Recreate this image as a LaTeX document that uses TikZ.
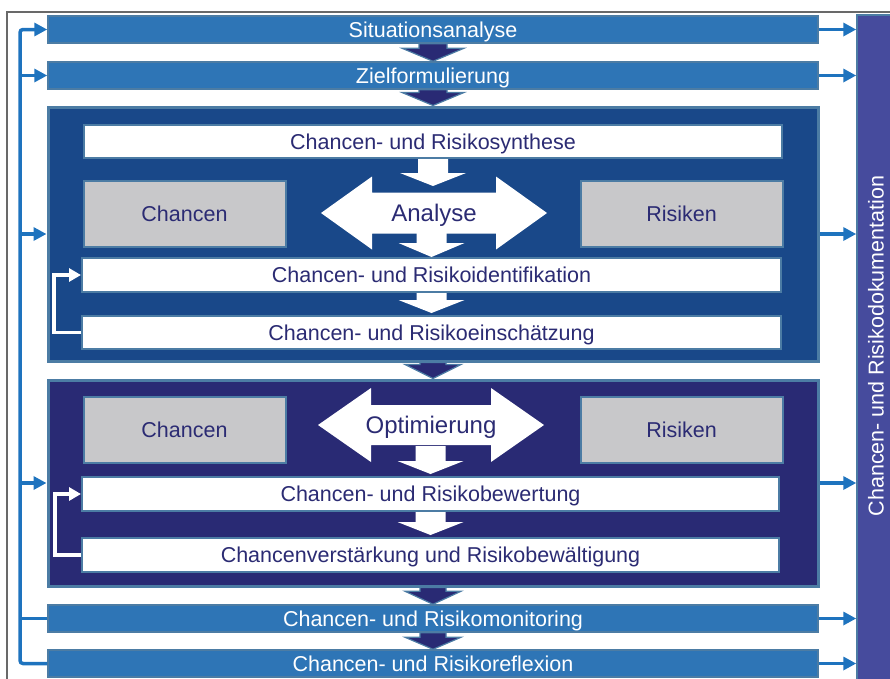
\documentclass[tikz,border=0pt]{standalone}
\usepackage{fontspec}
\setmainfont{Liberation Sans}
\usetikzlibrary{arrows.meta,calc}

\definecolor{barblue}{RGB}{46,117,182}
\definecolor{edgeblue}{RGB}{76,124,164}
\definecolor{anablue}{RGB}{25,72,137}
\definecolor{optnavy}{RGB}{41,42,116}
\definecolor{txtnavy}{RGB}{43,43,115}
\definecolor{boxgray}{RGB}{200,200,202}
\definecolor{docviolet}{RGB}{70,75,157}
\definecolor{linkblue}{RGB}{30,115,190}
\definecolor{framegray}{RGB}{105,105,105}

\newcommand{\fsz}{\fontsize{21.5}{24}\selectfont}
\newcommand{\fbig}{\fontsize{24}{28}\selectfont}

\tikzset{
  stage/.style={draw=edgeblue, fill=barblue, line width=1.5pt, minimum width=770pt,
    minimum height=27pt, inner sep=0pt, text=white, font=\fsz, text depth=0pt},
  phase/.style={draw=edgeblue, line width=3pt, minimum width=770pt, inner sep=0pt},
  stepbar/.style={draw=edgeblue, fill=white, line width=2pt, minimum height=33pt,
    inner sep=0pt, text=txtnavy, font=\fsz, text depth=0pt},
  sidebox/.style={draw=edgeblue, fill=boxgray, line width=2pt, minimum width=202pt,
    minimum height=66pt, inner sep=0pt, text=txtnavy, font=\fsz, text depth=0pt},
  biglabel/.style={font=\fbig, text=txtnavy, inner sep=0pt, text depth=0pt},
  link/.style={draw=linkblue, line width=3.5pt},
  linktip/.style={-{Triangle[length=13pt,width=13pt]}},
  loopback/.style={draw=white, line width=3.5pt, -{Triangle[length=12pt,width=13pt]}},
  flowdark/.style={fill=optnavy, draw=edgeblue, line width=1.2pt},
  flowwhite/.style={fill=white},
}

% downward block arrow: style, start point, tip point, shaft half width, head half width, head length
\newcommand{\blockdown}[6]{%
  \path[#1] let \p1=(#2), \p2=(#3) in
    (\x2-#4,\y1) -- (\x2+#4,\y1) -- (\x2+#4,\y2+#6) -- (\x2+#5,\y2+#6) -- (\x2,\y2)
    -- (\x2-#5,\y2+#6) -- (\x2-#4,\y2+#6) -- cycle;}

% horizontal double-headed block arrow: centre, half length, head length, head half width, shaft half width
\newcommand{\twoway}[5]{%
  \fill[white] ([shift={(-#2,0)}]#1) -- ([shift={(-#2+#3,-#4)}]#1) -- ([shift={(-#2+#3,-#5)}]#1)
    -- ([shift={(#2-#3,-#5)}]#1) -- ([shift={(#2-#3,-#4)}]#1) -- ([shift={(#2,0)}]#1)
    -- ([shift={(#2-#3,#4)}]#1) -- ([shift={(#2-#3,#5)}]#1) -- ([shift={(-#2+#3,#5)}]#1)
    -- ([shift={(-#2+#3,#4)}]#1) -- cycle;}

\begin{document}
\begin{tikzpicture}[x=1pt,y=-1pt]
\useasboundingbox (0,0) rectangle (890,678);

% outer frame
\draw[framegray, line width=2pt] (7,700) -- (7,12) -- (900,12);

% documentation column
\node[draw=edgeblue, fill=docviolet, line width=1.5pt, minimum width=40pt,
      minimum height=670pt, inner sep=0pt] (doc) at (877,350) {};
\node[rotate=90, text=white, font=\fsz] (doctext) at (876,346) {Chancen- und Risikodokumentation};

% process stages
\node[stage] (sit) at (433,29.5) {Situationsanalyse};
\node[stage] (ziel) at (433,75.5) {Zielformulierung};
\node[phase, fill=anablue, minimum height=254pt] (box1) at (433,234) {};
\node[phase, fill=optnavy, minimum height=206pt] (box2) at (433,483) {};
\node[stage] (mon) at (433,618.5) {Chancen- und Risikomonitoring};
\node[stage] (refl) at (433,663.5) {Chancen- und Risikoreflexion};

% dark flow arrows between stages
\blockdown{flowdark}{sit.south}{ziel.north}{14pt}{31pt}{13pt}
\blockdown{flowdark}{ziel.south}{box1.north}{14pt}{31pt}{13pt}
\blockdown{flowdark}{box1.south}{box2.north}{13pt}{28pt}{14pt}
\blockdown{flowdark}{box2.south}{mon.north}{13pt}{28pt}{13pt}
\blockdown{flowdark}{mon.south}{refl.north}{13pt}{28pt}{12pt}

% analysis phase
\node[stepbar, minimum width=698pt] (syn) at (433,141.5) {Chancen- und Risikosynthese};
\node[sidebox] (ch1) at (184.5,214) {Chancen};
\node[sidebox] (ri1) at (681.5,214) {Risiken};
\node[stepbar, minimum width=699pt, minimum height=34pt] (ident) at (431.5,275) {Chancen- und Risikoidentifikation};
\node[stepbar, minimum width=699pt] (eins) at (431.5,332.5) {Chancen- und Risikoeinschätzung};
\coordinate (anac) at (434,213);
\twoway{anac}{113}{51}{36.5}{20.5}
\node[biglabel] (ana) at (anac) {Analyse};
\coordinate (anatip) at (433,186);
\coordinate (anabot) at (433,232);
\blockdown{flowwhite}{syn.south}{anatip}{15pt}{33pt}{13pt}
\blockdown{flowwhite}{anabot}{ident.north}{15pt}{33pt}{14pt}
\blockdown{flowwhite}{ident.south}{[yshift=2pt]eins.north}{15pt}{33pt}{13pt}
\draw[loopback] (eins.west) -- ++(-27,0) |- (ident.west);

% optimisation phase
\node[sidebox] (ch2) at (184.5,430) {Chancen};
\node[sidebox] (ri2) at (681.5,430) {Risiken};
\node[stepbar, minimum width=697pt, minimum height=34pt] (bew) at (430.5,494) {Chancen- und Risikobewertung};
\node[stepbar, minimum width=697pt, minimum height=34pt] (verst) at (430.5,555) {Chancenverstärkung und Risikobewältigung};
\coordinate (optc) at (431,425);
\twoway{optc}{113}{53}{37}{20}
\node[biglabel] (opt) at (optc) {Optimierung};
\coordinate (optbot) at (433,446);
\blockdown{flowwhite}{optbot}{[yshift=2pt]bew.north}{15pt}{33pt}{13pt}
\blockdown{flowwhite}{bew.south}{[yshift=2pt]verst.north}{15pt}{33pt}{13pt}
\draw[loopback] (verst.west) -- ++(-26,0) |- (bew.west);

% feedback bus on the left
\coordinate (lb) at (20,0);
\draw[link, linktip, rounded corners=3pt] (refl.west) -| (lb |- sit.west) -- (sit.west);
\draw[link] (mon.west) -- (mon.west -| lb);
\foreach \n in {ziel,box1,box2}
  \draw[link, linktip] (\n.west -| lb) -- (\n.west);

% links into the documentation column
\foreach \n in {sit,ziel,box1,box2,mon,refl}
  \draw[link, linktip] (\n.east) -- (\n.east -| doc.west);
\end{tikzpicture}
\end{document}
